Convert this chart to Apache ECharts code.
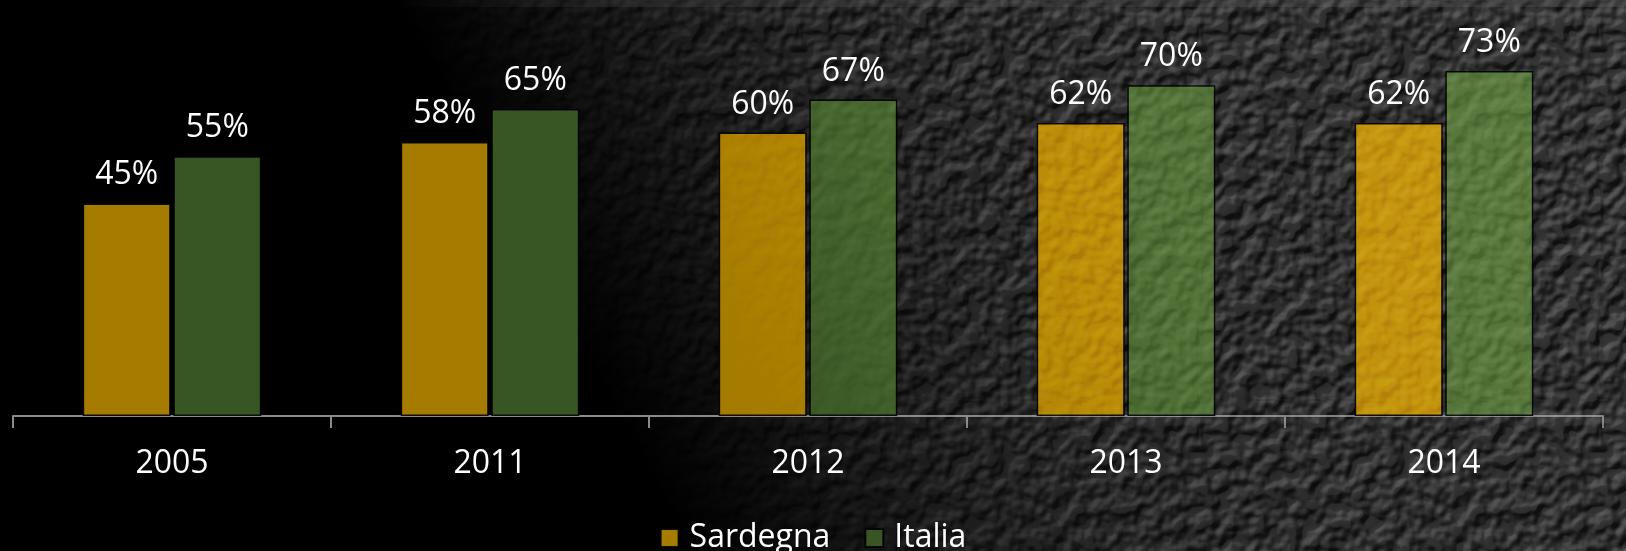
<!DOCTYPE html>
<html>
<head>
<meta charset="utf-8">
<script src="https://cdn.jsdelivr.net/npm/echarts@6/dist/echarts.min.js"></script>
<style>
  html, body { margin: 0; padding: 0; background: #000; }
  #wrap { position: relative; width: 1626px; height: 551px; overflow: hidden; }
  #bg {
    position: absolute; inset: 0;
    background: linear-gradient(62deg, #000 0%, #000 36%, #0c0c0c 42%, #1a1a1a 49%, #262626 58%, #2e2e2e 72%, #333 100%);
  }
  .tex {
    position: absolute; inset: 0; pointer-events: none;
    background-image: url("data:image/svg+xml;utf8,<svg xmlns='http://www.w3.org/2000/svg' width='400' height='400'><filter id='f' x='0' y='0' width='100%' height='100%' color-interpolation-filters='sRGB'><feTurbulence type='fractalNoise' baseFrequency='0.06' numOctaves='2' seed='5' stitchTiles='stitch'/><feComponentTransfer><feFuncA type='table' tableValues='0 0.1 0.9 1'/></feComponentTransfer><feDiffuseLighting surfaceScale='2.5' diffuseConstant='1' lighting-color='%23ffffff'><feDistantLight azimuth='235' elevation='30'/></feDiffuseLighting></filter><rect width='100%' height='100%' filter='url(%23f)'/></svg>");
  }
  #texUnder { mix-blend-mode: overlay; opacity: 0.6; }
  #texOver {
    mix-blend-mode: soft-light; opacity: 0.3;
    -webkit-mask-image: linear-gradient(62deg, transparent 42%, #000 64%);
    mask-image: linear-gradient(62deg, transparent 42%, #000 64%);
  }
  #topband {
    position: absolute; left: 0; top: 0; width: 1626px; height: 7px; pointer-events: none;
    background: linear-gradient(90deg, rgba(60,60,60,0) 24%, rgba(60,60,60,0.45) 42%, rgba(80,80,80,0.55) 100%);
  }
  #chart { position: absolute; inset: 0; width: 1626px; height: 551px; }
</style>
</head>
<body>
<div id="wrap">
  <div id="bg"></div>
  <div id="texUnder" class="tex"></div>
  <div id="topband"></div>
  <div id="chart"></div>
  <div id="texOver" class="tex"></div>
</div>
<script>
// Share of the population (%) by year
const years = ['2005', '2011', '2012', '2013', '2014'];
const sardegna = [45, 58, 60, 62, 62];
const italia = [55, 65, 67, 70, 73];
const seriesNames = ['Sardegna', 'Italia'];

const FONT = '"Open Sans", "DejaVu Sans", sans-serif';

// Bars brighten towards the upper right, following the lighting of the backdrop
function diagonalFill(stops) {
  return new echarts.graphic.LinearGradient(65, 673, 1561, -122, stops, true);
}

const chart = echarts.init(document.getElementById('chart'), null, { renderer: 'canvas' });

const labelStyle = {
  show: true,
  position: 'top',
  distance: 12,
  color: '#ffffff',
  fontFamily: FONT,
  fontSize: 32,
  formatter: p => p.value + '%'
};

chart.setOption({
  backgroundColor: 'transparent',
  animation: false,
  grid: { left: 13, right: 23, top: 38, bottom: 135, containLabel: false },
  legend: {
    data: seriesNames,
    left: 'center',
    top: 517,
    icon: 'rect',
    itemWidth: 18,
    itemHeight: 18,
    itemGap: 34,
    textStyle: { color: '#ffffff', fontFamily: FONT, fontSize: 32, padding: [0, 0, 0, 6] }
  },
  xAxis: {
    type: 'category',
    data: years,
    axisLine: { show: true, lineStyle: { color: '#8a8a8a', width: 2 } },
    axisTick: { show: true, length: 12, alignWithLabel: false, lineStyle: { color: '#8a8a8a', width: 2 } },
    axisLabel: { color: '#ffffff', fontFamily: FONT, fontSize: 32, margin: 32 },
    splitLine: { show: false }
  },
  yAxis: {
    type: 'value',
    min: 0,
    max: 80,
    show: false,
    splitLine: { show: false }
  },
  series: [
    {
      name: seriesNames[0],
      type: 'bar',
      data: sardegna,
      barWidth: 88,
      barGap: '3%',
      itemStyle: {
        color: diagonalFill([
          { offset: 0, color: '#a67c00' },
          { offset: 0.44, color: '#a67c00' },
          { offset: 0.56, color: '#b38705' },
          { offset: 0.7, color: '#bf900b' },
          { offset: 1, color: '#c99a12' }
        ]),
        borderColor: 'rgba(0,0,0,0.9)',
        borderWidth: 1.5
      },
      label: labelStyle
    },
    {
      name: seriesNames[1],
      type: 'bar',
      data: italia,
      barWidth: 88,
      itemStyle: {
        color: diagonalFill([
          { offset: 0, color: '#375623' },
          { offset: 0.44, color: '#375623' },
          { offset: 0.56, color: '#47662e' },
          { offset: 0.7, color: '#527238' },
          { offset: 1, color: '#5c7d41' }
        ]),
        borderColor: 'rgba(0,0,0,0.9)',
        borderWidth: 1.5
      },
      label: labelStyle
    }
  ]
});
</script>
</body>
</html>
